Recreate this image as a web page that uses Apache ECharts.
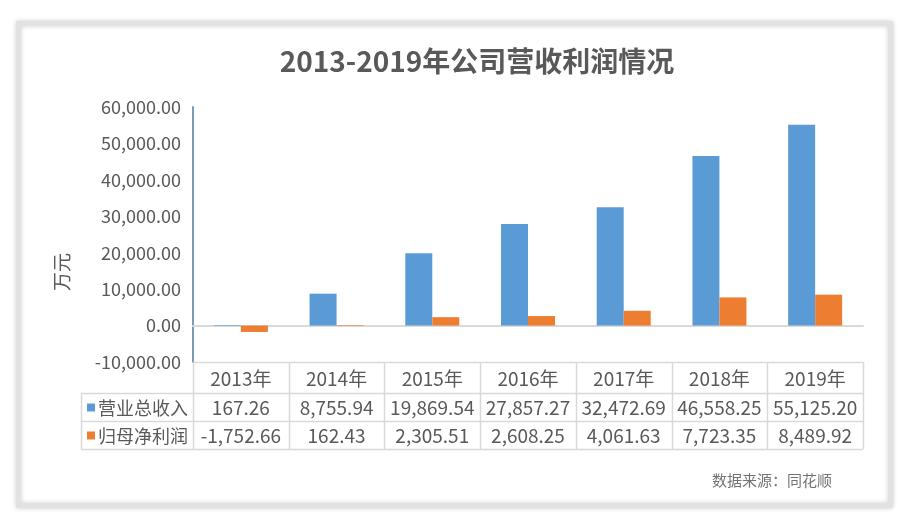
<!DOCTYPE html>
<html><head><meta charset="utf-8">
<script src="https://cdn.jsdelivr.net/npm/echarts@6/dist/echarts.min.js"></script>
<style>html,body{margin:0;padding:0;background:#fff}#c{width:911px;height:527px}</style>
</head><body><div id="c"></div>
<script>
var title = '2013-2019年公司营收利润情况';
var categories = ['2013年','2014年','2015年','2016年','2017年','2018年','2019年'];
var seriesNames = ['营业总收入','归母净利润'];
var revenue = [167.26, 8755.94, 19869.54, 27857.27, 32472.69, 46558.25, 55125.20];
var profit = [-1752.66, 162.43, 2305.51, 2608.25, 4061.63, 7723.35, 8489.92];
var yTicks = [-10000, 0, 10000, 20000, 30000, 40000, 50000, 60000];
var yName = '万元';
var source = '数据来源：同花顺';

var FONT = "'Noto Sans CJK SC', 'Noto Sans', sans-serif";
var TXT = '#595959';
var colors = ['#5B9BD5', '#ED7D31'];
var gl = 193, gr = 863, gt = 107, gb = 362;
function fmt(v){ return v.toLocaleString('en-US',{minimumFractionDigits:2, maximumFractionDigits:2}); }

var chart = echarts.init(document.getElementById('c'));
var n = categories.length, cw = (gr - gl) / n;
var rows = [362, 393, 421, 449];
var g = [];
// card
g.push({type:'rect', shape:{x:18.5, y:23.5, width:872, height:482}, style:{fill:'#fff', stroke:'#e2e2e2', lineWidth:5, shadowBlur:5, shadowColor:'rgba(0,0,0,0.18)'}, z:-10});
// table lines
var lc = '#d9d9d9';
g.push({type:'line', shape:{x1:gl, y1:rows[0]+0.5, x2:gr, y2:rows[0]+0.5}, style:{stroke:lc, lineWidth:1.5}, z:1});
for (var r = 1; r < rows.length; r++) {
  g.push({type:'line', shape:{x1:81, y1:rows[r]+0.5, x2:gr, y2:rows[r]+0.5}, style:{stroke:lc, lineWidth:1.5}, z:1});
}
g.push({type:'line', shape:{x1:81.5, y1:rows[1], x2:81.5, y2:rows[3]}, style:{stroke:lc, lineWidth:1.5}, z:1});
for (var i = 0; i <= n; i++) {
  var x = Math.round(gl + i * cw) + 0.5;
  g.push({type:'line', shape:{x1:x, y1:rows[0], x2:x, y2:rows[3]}, style:{stroke:lc, lineWidth:1.5}, z:1});
}
var dataRows = [revenue, profit];
for (var i = 0; i < n; i++) {
  var cx = gl + (i + 0.5) * cw;
  g.push({type:'text', x:cx, y:(rows[0]+rows[1])/2+1, style:{text:categories[i], fill:TXT, font:'19px '+FONT, textAlign:'center', textVerticalAlign:'middle'}, z:2});
  for (var s = 0; s < 2; s++) {
    g.push({type:'text', x:cx, y:(rows[s+1]+rows[s+2])/2+1, style:{text:fmt(dataRows[s][i]), fill:TXT, font:'19px '+FONT, textAlign:'center', textVerticalAlign:'middle'}, z:2});
  }
}
for (var s = 0; s < 2; s++) {
  var cy = (rows[s+1]+rows[s+2])/2;
  g.push({type:'rect', shape:{x:87, y:cy-3.5, width:8, height:8}, style:{fill:colors[s]}, z:2});
  g.push({type:'text', x:98, y:cy+1, style:{text:seriesNames[s], fill:TXT, font:'18px '+FONT, textAlign:'left', textVerticalAlign:'middle'}, z:2});
}
// y axis name
g.push({type:'text', x:62, y:272, rotation:Math.PI/2, style:{text:yName, fill:TXT, font:'19px '+FONT, textAlign:'center', textVerticalAlign:'middle'}, z:2});
// source
g.push({type:'text', x:832, y:480, style:{text:source, fill:'#737373', font:'15px '+FONT, textAlign:'right', textVerticalAlign:'middle'}, z:2});

chart.setOption({
  animation:false,
  backgroundColor:'#fff',
  title:{text:title, left:472, top:42, textAlign:'center', textStyle:{fontFamily:FONT, fontSize:28, fontWeight:'bold', color:TXT}},
  grid:{left:gl, right:911-gr, top:gt, bottom:527-gb},
  xAxis:{type:'category', data:categories, axisLine:{show:true, onZero:true, lineStyle:{color:'#d9d9d9', width:2}}, axisTick:{show:false}, axisLabel:{show:false}, splitLine:{show:false}, z:1},
  yAxis:{type:'value', min:yTicks[0], max:yTicks[yTicks.length-1], interval:yTicks[1]-yTicks[0],
    axisLine:{show:true, lineStyle:{color:'#7b9ab5', width:2}}, axisTick:{show:false}, splitLine:{show:false},
    axisLabel:{formatter:function(v){return fmt(v);}, color:TXT, fontSize:18, fontFamily:FONT, margin:12}},
  series:[
    {name:seriesNames[0], type:'bar', data:revenue, barWidth:27, barGap:'0%', itemStyle:{color:colors[0]}, z:3},
    {name:seriesNames[1], type:'bar', data:profit, barWidth:27, barGap:'0%', itemStyle:{color:colors[1]}, z:3}
  ],
  graphic:g
});
</script></body></html>
